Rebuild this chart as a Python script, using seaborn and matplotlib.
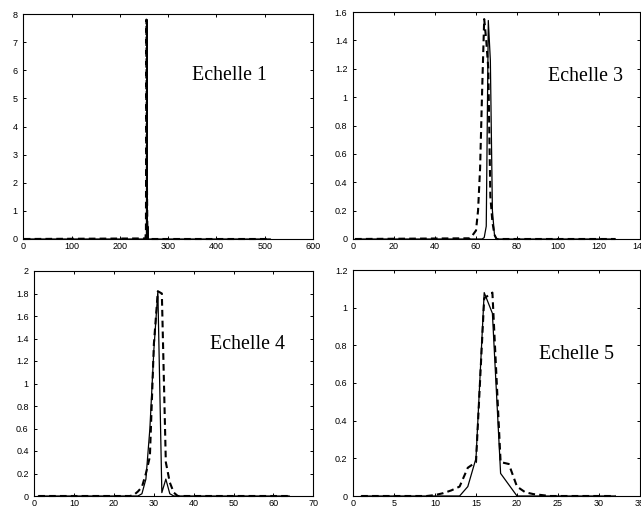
import matplotlib
matplotlib.use("Agg")
import matplotlib.pyplot as plt
import seaborn as sns

# ---------------- data ----------------
# Echelle 1 (512 samples)
e1_x = [1, 253, 254, 255, 256, 257, 258, 259, 260, 512]
e1_solid = [0, 0, 0, 0.05, 7.8, 0.02, 0.45, 0, 0, 0]
e1_dashed = [0, 0.02, 0.3, 7.8, 2.1, 0.3, 0.02, 0, 0, 0]

# Echelle 3 (128 samples)
e3_x = [1, 57, 58, 59, 60, 61, 62, 63, 64, 65, 66, 67, 68, 69, 70, 71, 128]
e3_solid = [0, 0, 0, 0, 0, 0, 0, 0, 0.01, 0.09, 1.54, 1.26, 0.2, 0.03, 0, 0, 0]
e3_dashed = [0, 0.005, 0.02, 0.04, 0.06, 0.2, 0.5, 1.05, 1.55, 1.4, 1.2, 0.3, 0.12, 0.03, 0, 0, 0]

# Echelle 4 (64 samples)
e4_x = [1, 24, 25, 26, 27, 28, 29, 30, 31, 32, 33, 34, 35, 36, 64]
e4_solid = [0, 0, 0, 0, 0.02, 0.15, 0.6, 1.3, 1.82, 0.03, 0.15, 0.02, 0, 0, 0]
e4_dashed = [0, 0, 0.01, 0.04, 0.08, 0.2, 0.35, 1.35, 1.82, 1.8, 0.3, 0.12, 0.03, 0, 0]

# Echelle 5 (32 samples)
e5_x = [1, 9, 10, 11, 12, 13, 14, 15, 16, 17, 18, 19, 20, 21, 22, 23, 24, 32]
e5_solid = [0, 0, 0, 0, 0, 0, 0.05, 0.2, 1.08, 0.97, 0.12, 0.06, 0, 0, 0, 0, 0, 0]
e5_dashed = [0, 0, 0.005, 0.015, 0.03, 0.05, 0.15, 0.18, 1.05, 1.08, 0.18, 0.17, 0.05, 0.02, 0.01, 0.005, 0, 0]

titles = ["Echelle 1", "Echelle 3", "Echelle 4", "Echelle 5"]

e1_xticks = [0, 100, 200, 300, 400, 500, 600]
e1_yticks = [0, 1, 2, 3, 4, 5, 6, 7, 8]
e1_ylabels = ["0", "1", "2", "3", "4", "5", "6", "7", "8"]

e3_xticks = [0, 20, 40, 60, 80, 100, 120, 140]
e3_yticks = [0, 0.2, 0.4, 0.6, 0.8, 1.0, 1.2, 1.4, 1.6]
e3_ylabels = ["0", "0.2", "0.4", "0.6", "0.8", "1", "1.2", "1.4", "1.6"]

e4_xticks = [0, 10, 20, 30, 40, 50, 60, 70]
e4_yticks = [0, 0.2, 0.4, 0.6, 0.8, 1.0, 1.2, 1.4, 1.6, 1.8, 2.0]
e4_ylabels = ["0", "0.2", "0.4", "0.6", "0.8", "1", "1.2", "1.4", "1.6", "1.8", "2"]

e5_xticks = [0, 5, 10, 15, 20, 25, 30, 35]
e5_yticks = [0, 0.2, 0.4, 0.6, 0.8, 1.0, 1.2]
e5_ylabels = ["0", "0.2", "0.4", "0.6", "0.8", "1", "1.2"]

# ---------------- figure ----------------
sns.set_style("ticks")
plt.rcParams["font.family"] = ["Liberation Sans", "DejaVu Sans"]

W, H = 641, 508
fig = plt.figure(figsize=(W / 100, H / 100), dpi=100)
fig.patch.set_facecolor("white")


def add_ax(l, r, t, b):
    return fig.add_axes([l / W, 1 - b / H, (r - l) / W, (b - t) / H])


panels = [
    dict(box=(23.3, 313, 14, 239), x=e1_x, s=e1_solid, d=e1_dashed,
         xt=e1_xticks, yt=e1_yticks, yl=e1_ylabels, xlim=(0, 600), ylim=(0, 8),
         txt=(229.7, 80)),
    dict(box=(353, 640, 12, 239), x=e3_x, s=e3_solid, d=e3_dashed,
         xt=e3_xticks, yt=e3_yticks, yl=e3_ylabels, xlim=(0, 140), ylim=(0, 1.6),
         txt=(585.8, 81)),
    dict(box=(34.3, 313.3, 271, 496), x=e4_x, s=e4_solid, d=e4_dashed,
         xt=e4_xticks, yt=e4_yticks, yl=e4_ylabels, xlim=(0, 70), ylim=(0, 2),
         txt=(248, 349)),
    dict(box=(353, 640, 270, 496), x=e5_x, s=e5_solid, d=e5_dashed,
         xt=e5_xticks, yt=e5_yticks, yl=e5_ylabels, xlim=(0, 35), ylim=(0, 1.2),
         txt=(576.3, 359)),
]

for p, title in zip(panels, titles):
    ax = add_ax(*p["box"])
    sns.lineplot(x=p["x"], y=p["d"], ax=ax, color="black", lw=1.5,
                 linestyle=(0, (3.2, 2.0)), errorbar=None, sort=False,
                 clip_on=False, zorder=3)
    sns.lineplot(x=p["x"], y=p["s"], ax=ax, color="black", lw=0.9,
                 errorbar=None, sort=False, clip_on=False, zorder=3)
    ax.set_xlim(*p["xlim"])
    ax.set_ylim(*p["ylim"])
    ax.set_xticks(p["xt"])
    ax.set_xticklabels([str(v) for v in p["xt"]])
    ax.set_yticks(p["yt"])
    ax.set_yticklabels(p["yl"])
    ax.tick_params(direction="in", length=2.5, width=0.7, labelsize=6.5,
                   top=True, right=True, colors="black")
    ax.tick_params(axis="x", pad=2.0)
    ax.tick_params(axis="y", pad=4.0)
    for sp in ax.spines.values():
        sp.set_visible(True)
        sp.set_linewidth(0.8)
        sp.set_color("black")
    ax.set_xlabel("")
    ax.set_ylabel("")
    fig.text(p["txt"][0] / W, 1 - p["txt"][1] / H, title, ha="center",
             va="baseline", fontsize=14.4, family="Liberation Serif",
             color="black")

fig.savefig("out.png", dpi=100, facecolor="white")
